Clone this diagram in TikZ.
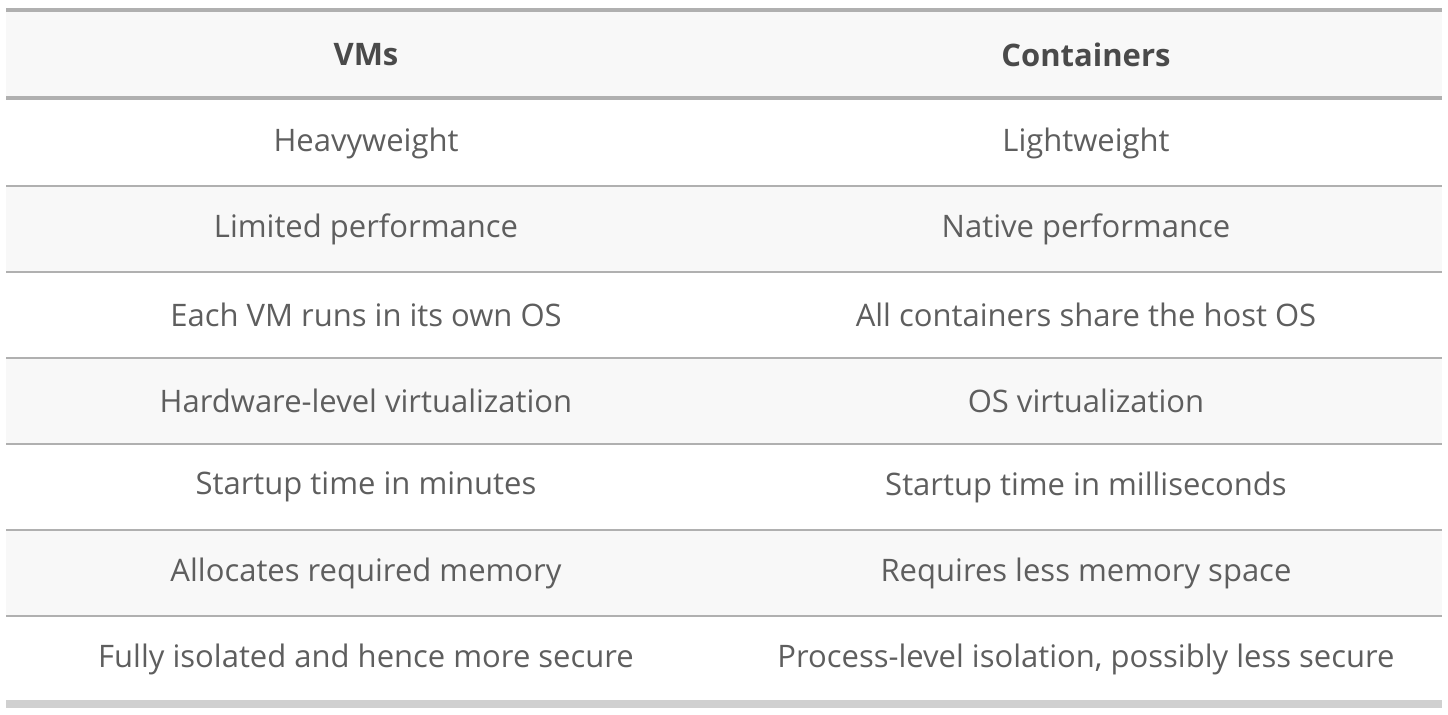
\documentclass[tikz,border=0pt]{standalone}
\usepackage{fontspec}
\setmainfont{Open Sans}
\usetikzlibrary{positioning}
\definecolor{RowGray}{HTML}{F8F8F8}
\definecolor{RuleGray}{HTML}{B0B0B0}
\definecolor{BandGray}{HTML}{D0D0D0}
\definecolor{TextGray}{HTML}{5E5E5E}
\definecolor{HeadGray}{HTML}{4A4A4A}
\begin{document}
\begin{tikzpicture}[
        x=0.5pt, y=-0.5pt,
        cell/.style={text=TextGray, font=\fontsize{15.5}{18}\selectfont, inner sep=0pt, anchor=center},
        head/.style={text=HeadGray, font=\fontsize{15.5}{18}\selectfont\bfseries, inner sep=0pt, anchor=center},
    ]
    \useasboundingbox (0,0) rectangle (1448,714);

    % ===== header =====
    \fill[RowGray] (6,12) rectangle (1442,96);
    \fill[RuleGray] (6,8) rectangle (1442,12);
    \fill[RuleGray] (6,96) rectangle (1442,100);
    \node[head] (hvm) at (366,55) {VMs};
    \node[head] (hct) at (1086,55) {Containers};

    % ===== striped rows =====
    \foreach \r in {2,4,6} {
        \fill[RowGray] (6,{100+(\r-1)*86}) rectangle (1442,{100+\r*86});
    }
    \foreach \r in {1,...,6} {
        \fill[RuleGray] (6,{99+\r*86}) rectangle (1442,{101+\r*86});
    }
    \fill[BandGray] (6,700) rectangle (1442,708);

    % ===== cells =====
    \foreach \vm/\ct [count=\i] in {
        Heavyweight/Lightweight,
        Limited performance/Native performance,
        Each VM runs in its own OS/All containers share the host OS,
        Hardware-level virtualization/OS virtualization,
        Startup time in minutes/Startup time in milliseconds,
        Allocates required memory/Requires less memory space,
        Fully isolated and hence more secure/{Process-level isolation, possibly less secure}
    } {
        \node[cell] (vm\i) at (366,{143+(\i-1)*86}) {\vm};
        \node[cell] (ct\i) at (1086,{143+(\i-1)*86}) {\ct};
    }
\end{tikzpicture}
\end{document}
